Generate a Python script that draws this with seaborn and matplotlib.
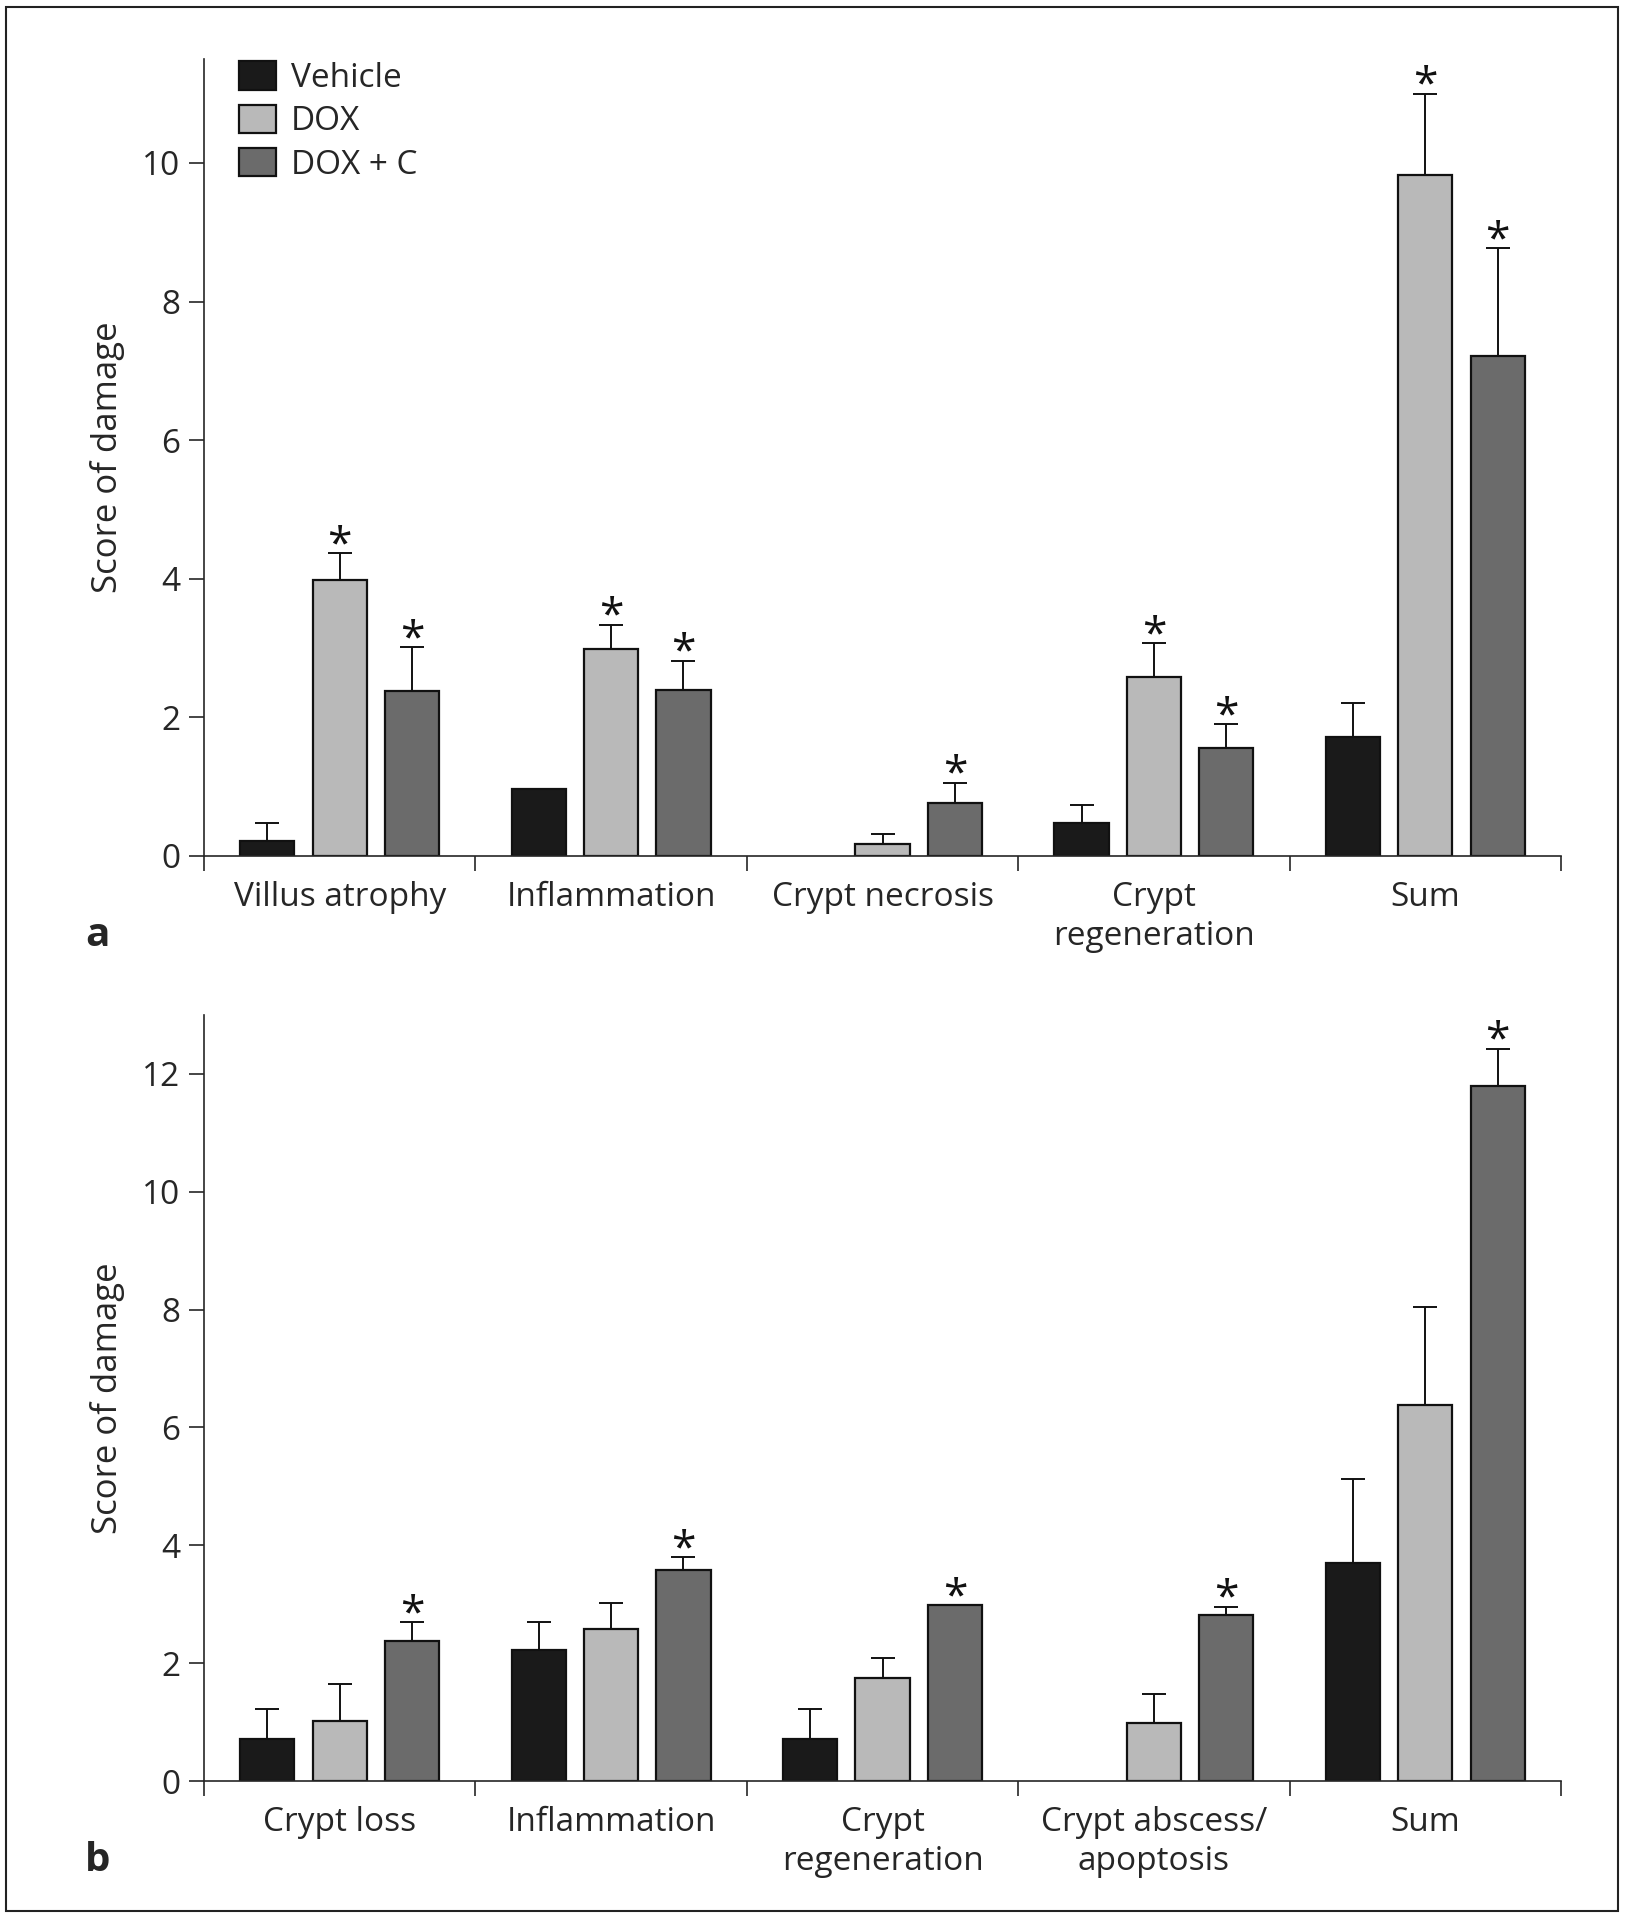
import matplotlib
matplotlib.use("Agg")
import matplotlib.pyplot as plt
from matplotlib.patches import Rectangle, Patch
import seaborn as sns
import pandas as pd
import numpy as np

# ---------------- data ----------------
groups = ["Vehicle", "DOX", "DOX + C"]

cats_a = ["Villus atrophy", "Inflammation", "Crypt necrosis", "Crypt\nregeneration", "Sum"]
veh_a = [0.22, 0.97, 0.0, 0.47, 1.72]
veh_a_err = [0.25, 0.0, 0.0, 0.27, 0.49]
dox_a = [3.98, 2.98, 0.18, 2.58, 9.83]
dox_a_err = [0.39, 0.36, 0.14, 0.49, 1.17]
doxc_a = [2.38, 2.39, 0.76, 1.56, 7.22]
doxc_a_err = [0.63, 0.43, 0.30, 0.34, 1.55]
star_a_dox = [True, True, False, True, True]
star_a_doxc = [True, True, True, True, True]

cats_b = ["Crypt loss", "Inflammation", "Crypt\nregeneration", "Crypt abscess/\napoptosis", "Sum"]
veh_b = [0.71, 2.23, 0.71, 0.0, 3.70]
veh_b_err = [0.51, 0.47, 0.52, 0.0, 1.43]
dox_b = [1.01, 2.58, 1.75, 0.99, 6.38]
dox_b_err = [0.63, 0.44, 0.33, 0.49, 1.66]
doxc_b = [2.38, 3.58, 2.98, 2.81, 11.80]
doxc_b_err = [0.32, 0.22, 0.0, 0.15, 0.63]
star_b_dox = [False, False, False, False, False]
star_b_doxc = [True, True, True, True, True]

colors = ["#1a1a1a", "#b9b9b9", "#6b6b6b"]

# ---------------- style ----------------
sns.set_style("ticks")
plt.rcParams["font.family"] = ["Open Sans", "DejaVu Sans"]
plt.rcParams["axes.linewidth"] = 1.2
plt.rcParams["xtick.major.width"] = 1.2
plt.rcParams["ytick.major.width"] = 1.2

W, H = 1627, 1920
fig = plt.figure(figsize=(W / 100, H / 100), dpi=100)

FS = 24


def panel(rect, cats, vals, errs, stars, ymax, yticks, letter, letter_pos, legend=False):
    ax = fig.add_axes(rect)
    df = pd.DataFrame({
        "category": list(cats) * 3,
        "group": sum([[g] * len(cats) for g in groups], []),
        "value": sum([list(v) for v in vals], []),
    })
    sns.barplot(data=df, x="category", y="value", hue="group", order=cats,
                hue_order=groups, palette=colors, width=0.8, gap=0.25,
                edgecolor="#111111", linewidth=1.6, errorbar=None,
                legend=False, ax=ax, saturation=1)
    for cont, err, st in zip(ax.containers, errs, stars):
        for bar, e, s in zip(cont.patches, err, st):
            x = bar.get_x() + bar.get_width() / 2
            top = bar.get_height()
            if top == 0:
                bar.set_visible(False)
            if e > 0:
                ax.errorbar([x], [top], yerr=[[0], [e]], fmt="none",
                            ecolor="#111111", elinewidth=1.4, capsize=8.5,
                            capthick=1.4, zorder=1)
            if s:
                ax.annotate("*", xy=(x, top + e), xytext=(0, -3),
                            textcoords="offset points", ha="center",
                            va="baseline", fontsize=32, color="#111111")
    ax.set_ylim(0, ymax)
    ax.set_xlim(-0.5, len(cats) - 0.5)
    ax.set_yticks(yticks)
    ax.set_yticklabels([str(t) for t in yticks], fontsize=FS)
    ax.set_xticks(np.arange(-0.5, len(cats), 1.0))
    ax.set_xticklabels([])
    ax.set_xticks(np.arange(len(cats)), minor=True)
    ax.set_xticklabels(cats, minor=True, fontsize=FS, linespacing=1.25)
    ax.tick_params(axis="x", which="minor", length=0, pad=18)
    ax.tick_params(axis="x", which="major", length=11, direction="out")
    ax.tick_params(axis="y", length=11, pad=6, direction="out")
    ax.set_xlabel("")
    ax.set_ylabel("Score of damage", fontsize=25, labelpad=12)
    sns.despine(ax=ax)
    fig.text(letter_pos[0], letter_pos[1], letter, fontsize=29,
             fontweight="bold", ha="left", va="baseline")
    if legend:
        handles = [Patch(facecolor=c, edgecolor="#111111", linewidth=1.6) for c in colors]
        ax.legend(handles, groups, loc="upper left", bbox_to_anchor=(0.026, 0.997),
                  frameon=False, fontsize=FS, borderpad=0, handlelength=1.1,
                  handleheight=0.95, handletextpad=0.45, labelspacing=0.28,
                  borderaxespad=0)
    return ax


# panel a : axes left 204, right 1561, top 59, bottom 856 (pixels)
panel([204 / W, 1 - 856 / H, 1357 / W, (856 - 59) / H], cats_a,
      [veh_a, dox_a, doxc_a], [veh_a_err, dox_a_err, doxc_a_err],
      [[False] * 5, star_a_dox, star_a_doxc], 11.5, [0, 2, 4, 6, 8, 10],
      "a", (85 / W, 1 - 946 / H), legend=True)

# panel b : axes top 1015, bottom 1781
panel([204 / W, 1 - 1781 / H, 1357 / W, (1781 - 1015) / H], cats_b,
      [veh_b, dox_b, doxc_b], [veh_b_err, dox_b_err, doxc_b_err],
      [[False] * 5, star_b_dox, star_b_doxc], 13.0, [0, 2, 4, 6, 8, 10, 12],
      "b", (85 / W, 1 - 1871 / H))

# outer frame
fig.patches.append(Rectangle((6 / W, 1 - 1911 / H), 1612 / W, 1904 / H,
                             transform=fig.transFigure, fill=False,
                             edgecolor="#222222", linewidth=1.5))

fig.savefig("out.png", dpi=100)
